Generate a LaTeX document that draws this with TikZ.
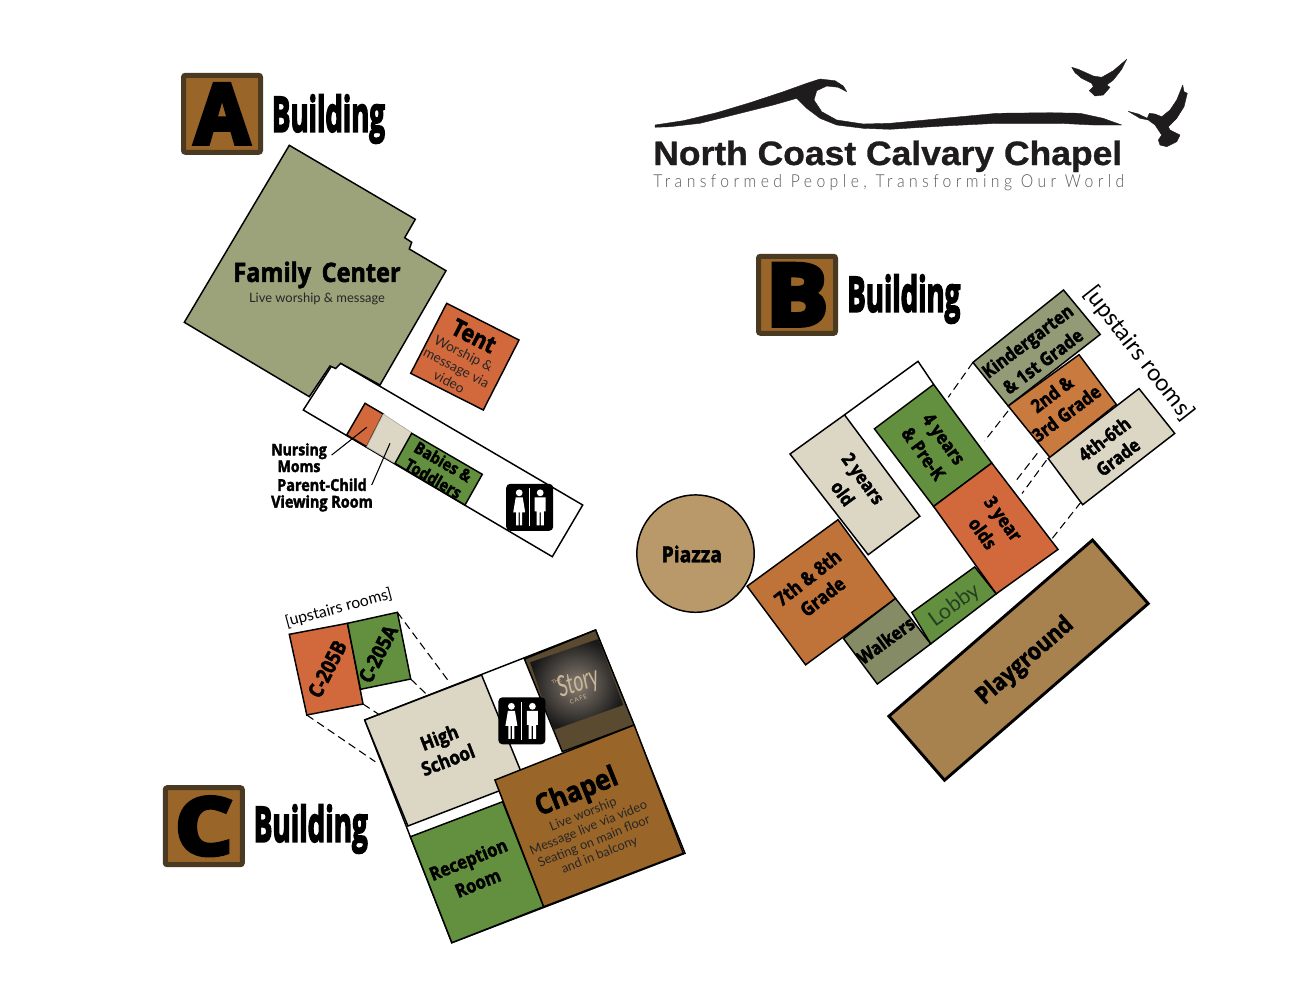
\documentclass[tikz,border=0pt]{standalone}
\usepackage{fontspec}
\usepackage{graphicx}
\setmainfont{Lato}
\newfontfamily\hvbase[FakeStretch=.88,BoldFeatures={FakeBold=2}]{Open Sans}
\newfontfamily\hvbig[BoldFeatures={FakeBold=4}]{Open Sans}
\newfontfamily\letf[BoldFeatures={FakeBold=6}]{Open Sans}
\newfontfamily\logof[BoldFeatures={FakeBold=.8}]{Liberation Sans}
\newfontfamily\tagf[LetterSpace=28]{Lato Light}
\newcommand{\hvs}[2]{\hvbase\bfseries\fontsize{#1}{#2}\selectfont}
\newcommand{\lts}[2]{\rmfamily\fontsize{#1}{#2}\selectfont}
\newcommand{\fitbox}[3]{\resizebox{\dimexpr#1pt*3/4\relax}{\dimexpr#2pt*3/4\relax}{#3}}
\definecolor{olive}{HTML}{9CA27A}
\definecolor{olived}{HTML}{858B65}
\definecolor{olivek}{HTML}{939A76}
\definecolor{orng}{HTML}{D2693C}
\definecolor{orngb}{HTML}{C07339}
\definecolor{orngc}{HTML}{C87A3F}
\definecolor{beige}{HTML}{DCD6C4}
\definecolor{grn}{HTML}{63903E}
\definecolor{brwn}{HTML}{9A6528}
\definecolor{dbrwn}{HTML}{4A3A22}
\definecolor{cafeb}{HTML}{5A4A30}
\definecolor{cafet}{HTML}{C8B899}
\definecolor{piazzac}{HTML}{B9986A}
\definecolor{playc}{HTML}{A7824F}
\definecolor{logoc}{HTML}{1E1C1C}
\definecolor{lobbyt}{HTML}{234020}
\tikzset{
  room/.style={draw=black,line width=1.1pt,line join=miter},
  thickroom/.style={draw=black,line width=2.2pt,line join=miter},
  shell/.style={draw=black,line width=1.1pt,fill=white},
  lab/.style={align=center,inner sep=0pt,text=black},
  badge/.style={draw=dbrwn,line width=3.75pt,fill=brwn,rounded corners=1.5pt,minimum size=57.75pt,inner sep=0pt},
  upline/.style={black,line width=.8pt,dash pattern=on 6pt off 3.5pt},
  leader/.style={black,line width=.8pt},
  ink/.style={fill=logoc,draw=logoc,line width=.3pt,line join=round},
  wcbox/.style={fill=black,rounded corners=3pt,minimum size=35.25pt,inner sep=0pt}
}
\newcommand{\wcicon}[3]{%
  \node[wcbox] (#1) at (#2,#3) {};
  \begin{scope}[shift={(#2,#3)}]
    \fill[white] (-10.5,-14.5) circle[radius=3.4];
    \fill[white] (-14,-10) -- (-7,-10) -- (-4.5,5) -- (-7.5,5) -- (-7.5,18) -- (-9.8,18) -- (-9.8,5) -- (-11.2,5) -- (-11.2,18) -- (-13.5,18) -- (-13.5,5) -- (-16.5,5) -- cycle;
    \fill[white] (10.5,-14.5) circle[radius=3.4];
    \fill[white] (5,-10) -- (16,-10) -- (16,4) -- (14.2,4) -- (14.2,18) -- (11.2,18) -- (11.2,5) -- (9.8,5) -- (9.8,18) -- (6.8,18) -- (6.8,4) -- (5,4) -- cycle;
    \draw[white,line width=.8pt] (0,-19) -- (0,19);
  \end{scope}}
\begin{document}
\begin{tikzpicture}[x=.75pt,y=-.75pt]
\useasboundingbox (0,0) rectangle (1294,1000);
\fill[white] (0,0) rectangle (1294,1000);

% ---------- Building A ----------
\node[badge] (badgeA) at (222,113.8) {\fitbox{54}{59}{\letf\bfseries A}};
\node[lab,anchor=base west] (bldA) at (271.7,131.7) {\fitbox{113}{37}{\hvbig\bfseries Building}};

\draw[shell] (333.3,363.3) -- (303.3,410) -- (552.3,556.7) -- (582.7,505) -- (340.7,363.3) -- cycle;
\draw[room,fill=olive] (289.3,145.3) -- (415.3,219.3) -- (404.7,237.7) -- (411.7,242.3) -- (409.3,249) -- (446,270.7) -- (380,385) -- (340.7,363.3) -- (335.7,368.5) -- (330,366) -- (309.3,396.7) -- (184.3,322.3) -- cycle;
\node[lab,font=\hvs{20}{22}] (family) at (317,275) {Family\, Center};
\node[lab,font=\lts{9.7}{11},text=black!85] (familysub) at (317,299) {Live worship \& message};

\draw[room,fill=orng] (446.7,303.3) -- (519,340) -- (483.3,410) -- (410.7,373.3) -- cycle;
\node[lab,rotate=-27,font=\hvs{18}{20}] (tent) at (474,336) {Tent};
\node[lab,rotate=-27,font=\lts{10.2}{12},text=black!85] (tentsub) at (456.5,367.5) {Worship \&\\message via\\video};

\draw[room,fill=orng] (365,403.3) -- (383.3,414) -- (366.7,446.7) -- (346.7,435) -- cycle;
\draw[line width=.5pt,fill=beige,draw=beige!80!black] (383.3,414) -- (411.7,432.7) -- (395,463.3) -- (366.7,446.7) -- cycle;
\draw[room,fill=grn] (411.7,433.3) -- (482.3,474.3) -- (465,505) -- (395,463.3) -- cycle;
\node[lab,rotate=-30,font=\hvs{12.5}{14.5}] (babies) at (438.3,470) {Babies \&\\Toddlers};
\wcicon{wcA}{529.7}{507.3}

\node[lab,font=\hvs{12}{12.5}] (nursing) at (299,457.7) {Nursing\\Moms};
\node[lab,font=\hvs{12.3}{12.5}] (parent) at (322,495) {Parent-Child\\Viewing Room};
\coordinate (nm1) at (331.7,455); \coordinate (nm2) at (366.7,427.3);
\coordinate (pc1) at (371.7,485); \coordinate (pc2) at (390,443.3);
\draw[leader] (nm1) -- (nm2);
\draw[leader] (pc1) -- (pc2);

% ---------- Logo ----------
\path[ink] (655,125) -- (683.3,120.7) -- (716.7,112.7) -- (750,102.7) -- (783.3,91.7) -- (806.7,83.3) -- (820,79) -- (835,80.7) -- (843.3,86) -- (846.7,91.7) -- (838.3,87.3) -- (826.7,86) -- (816.7,90.7) -- (814,100) -- (821.7,111.7) -- (836.7,120) -- (863.3,124) -- (890,123.3) -- (943.6,118.3) -- (997,113.3) -- (1050.7,112.7) -- (1080,113.3) -- (1103,118.3) -- (1121.7,125) -- (1093.3,125) -- (1060,123.3) -- (997,123.3) -- (943.6,126) -- (890,129.3) -- (863.3,128.3) -- (836.7,125) -- (820,118.3) -- (806.7,108.3) -- (796.7,98.3) -- (773.3,105) -- (733.3,115) -- (700,123.3) -- (670,126.7) -- (655,127.3) -- cycle;
\path[ink] (1071.7,67.3) -- (1078.3,69.3) -- (1093.3,76) -- (1101.7,77.3) -- (1113.3,70.7) -- (1126.7,59.3) -- (1121.7,69.3) -- (1113.3,80) -- (1106.7,85) -- (1110,87.3) -- (1103.3,95) -- (1095,96) -- (1089.3,90.7) -- (1093.3,86.7) -- (1091.7,83.3) -- (1081.7,78.3) -- (1075,72.7) -- cycle;
\path[ink] (1128.3,111.3) -- (1138.3,114) -- (1147.3,118.3) -- (1149.3,113.3) -- (1155,114) -- (1161.7,116.7) -- (1170,110) -- (1176.7,100) -- (1182.7,85) -- (1184,91.7) -- (1187.3,93.3) -- (1184,106.7) -- (1176.7,118.3) -- (1168.3,126.7) -- (1170,130) -- (1180,135) -- (1176.7,141.7) -- (1166.7,146.7) -- (1160,145) -- (1158.3,140) -- (1161.7,135) -- (1155,125) -- (1148.3,120) -- (1140,118.3) -- cycle;
\node[lab,anchor=base west,text=logoc] (logotitle) at (653,165) {\fitbox{469}{24.5}{\logof\bfseries North Coast Calvary Chapel}};
\node[lab,anchor=base west,text=black!65] (logotag) at (653,187) {\fitbox{471}{13}{\tagf Transformed People, Transforming Our World}};

% ---------- Building B ----------
\node[badge] (badgeB) at (797,294.8) {\fitbox{62}{61}{\letf\bfseries B}};
\node[lab,anchor=base west] (bldB) at (847,311.7) {\fitbox{113}{37}{\hvbig\bfseries Building}};

\coordinate (bt1) at (844.5,414.8); \coordinate (bt2) at (918,361.3); \coordinate (bt3) at (933.6,384.4);
\draw[black,line width=1.1pt] (bt1) -- (bt2) -- (bt3);
\draw[room,fill=grn] (933.6,384.4) -- (991.8,463) -- (933.6,506.4) -- (874.4,428.8) -- cycle;
\draw[room,fill=orng] (991.8,463) -- (1058,549.4) -- (996.2,593.8) -- (933.6,506.4) -- cycle;
\draw[room,fill=beige] (844.5,414.8) -- (919.8,516.2) -- (868.2,554.7) -- (790,454) -- cycle;
\draw[room,fill=orngb] (838,519.7) -- (895.5,598.4) -- (805.6,664.8) -- (747.1,586.2) -- cycle;
\draw[room,fill=grn] (911.8,612.4) -- (974.7,566.9) -- (996.2,593.8) -- (930.7,643.9) -- cycle;
\draw[room,fill=olived] (895.5,598.4) -- (930.7,643.9) -- (877.3,684) -- (843.5,638.6) -- cycle;
\draw[room,fill=olivek] (1063.5,290) -- (1100.2,334.4) -- (1008.2,406) -- (972.9,362.4) -- cycle;
\draw[room,fill=orngc] (1008.2,406) -- (1079,354.7) -- (1116.2,404.3) -- (1050,457.5) -- cycle;
\draw[room,fill=beige] (1139,388.6) -- (1174.7,433.4) -- (1082.7,504.7) -- (1048.2,458.5) -- cycle;
\draw[thickroom,fill=playc] (1092.5,540) -- (1148.2,603.6) -- (944.5,780.2) -- (888.9,716.2) -- cycle;
\node[draw=black,line width=1.1pt,fill=piazzac,circle,minimum size=88pt,inner sep=0pt] (piazza) at (695.5,553.6) {};
\node[lab,font=\hvs{16.5}{18}] (piazzat) at (691.8,554) {Piazza};

\node[lab,rotate=38,font=\hvs{14.5}{18}] (g78) at (815,587) {7th \& 8th\\Grade};
\node[lab,rotate=-54,font=\hvs{14}{19}] (y2) at (853,486) {2 years\\old};
\node[lab,rotate=-54,font=\hvs{14}{19}] (y4) at (933.6,446.3) {4 years\\\& Pre-K};
\node[lab,rotate=-54,font=\hvs{14}{19}] (y3) at (993,526) {3 year\\olds};
\node[lab,rotate=37,font=\hvs{14}{19}] (kg) at (1035,351) {Kindergarten\\\& 1st Grade};
\node[lab,rotate=37,font=\hvs{14}{18}] (g23) at (1059,403.5) {2nd \&\\3rd Grade};
\node[lab,rotate=37,font=\hvs{14}{17}] (g46) at (1111,448) {4th-6th\\Grade};
\node[lab,rotate=36,font=\hvs{14}{16}] (walk) at (885.6,640.3) {Walkers};
\node[lab,rotate=36,font=\lts{16}{18},text=lobbyt] (lobby) at (954.7,605.4) {Lobby};
\node[lab,rotate=41,font=\hvs{18}{20}] (playg) at (1025.3,661.3) {Playground};
\node[lab,rotate=-52,font=\lts{17.5}{19}] (upB) at (1139,353.6) {[upstairs rooms]};

\coordinate (b1a) at (972.9,362.4); \coordinate (b1b) at (948.2,397.3);
\coordinate (b2a) at (1008,411); \coordinate (b2b) at (984.5,441);
\coordinate (b3a) at (1037.3,453.3); \coordinate (b3b) at (1015.5,481.3);
\coordinate (b4a) at (1046.4,460.3); \coordinate (b4b) at (1022,493.5);
\coordinate (b5a) at (1080.9,502.2); \coordinate (b5b) at (1051.8,539);
\draw[upline] (b1a) -- (b1b);
\draw[upline] (b2a) -- (b2b);
\draw[upline] (b3a) -- (b3b);
\draw[upline] (b4a) -- (b4b);
\draw[upline] (b5a) -- (b5b);

% ---------- Building C ----------
\node[badge] (badgeC) at (203.8,826.2) {\fitbox{57}{57}{\letf\bfseries C}};
\node[lab,anchor=base west] (bldC) at (253.5,841.7) {\fitbox{114}{37}{\hvbig\bfseries Building}};

\draw[shell] (595.6,630) -- (685,853.3) -- (451.8,942.7) -- (364.7,720) -- cycle;
\draw[room,fill=beige] (364.7,720) -- (481.6,675) -- (524.8,781) -- (407.9,826) -- cycle;
\draw[room,fill=cafeb] (524.4,659) -- (595.6,630) -- (634.2,725) -- (562.3,751.7) -- cycle;
\shade[inner color=black!70!brown!60,outer color=black!90] (530,662.3) -- (598.3,639) -- (623.3,705) -- (553.3,730) -- cycle;
\node[lab,rotate=18,text=cafet] (story) at (578.3,683.3) {\fitbox{42}{21}{\itshape Story}};
\node[lab,rotate=20,text=cafet,font=\lts{4}{5}] (cafethe) at (556.7,681) {THE};
\node[lab,rotate=20,text=cafet,font=\lts{4.5}{5}] (cafename) at (578.3,699) {C\,A\,F\,E};
\draw[room,fill=grn] (410.4,836.7) -- (502.6,801.7) -- (543.7,906.7) -- (451.8,942.7) -- cycle;
\draw[room,fill=brwn] (494.9,780) -- (634.2,725) -- (683.3,853.3) -- (543.7,906.7) -- cycle;
\wcicon{wcC}{521.9}{720.8}
\node[lab,rotate=21,font=\hvs{14.5}{18}] (hs) at (443.5,748.5) {High\\School};
\node[lab,rotate=22,font=\hvs{21.5}{24}] (chapel) at (577,793) {Chapel};
\node[lab,rotate=22,font=\lts{9.6}{11},text=black!85] (chapelsub) at (591.4,835) {Live worship\\Message live via video\\Seating on main floor\\and in balcony};
\node[lab,rotate=22,font=\hvs{14}{19}] (recep) at (473,871) {Reception\\Room};

\draw[room,fill=orng] (289.3,634.3) -- (347.5,623.3) -- (363,704) -- (306.8,715) -- cycle;
\draw[room,fill=grn] (347.5,623.3) -- (397.4,612.3) -- (410.7,679) -- (360.5,689.3) -- cycle;
\node[lab,rotate=63,font=\hvs{15.5}{17}] (c205b) at (327.2,669) {C-205B};
\node[lab,rotate=63,font=\hvs{15.5}{17}] (c205a) at (378,654) {C-205A};
\node[lab,rotate=15,font=\lts{11.8}{13}] (upC) at (338.8,608.3) {[upstairs rooms]};

\coordinate (c1a) at (397.4,612.3); \coordinate (c1b) at (449,681.7);
\coordinate (c2a) at (410.7,679);   \coordinate (c2b) at (427.2,695);
\coordinate (c3a) at (363,704);     \coordinate (c3b) at (379.8,715);
\coordinate (c4a) at (306.8,715);   \coordinate (c4b) at (375.3,761.7);
\draw[upline] (c1a) -- (c1b);
\draw[upline] (c2a) -- (c2b);
\draw[upline] (c3a) -- (c3b);
\draw[upline] (c4a) -- (c4b);
\end{tikzpicture}
\end{document}
